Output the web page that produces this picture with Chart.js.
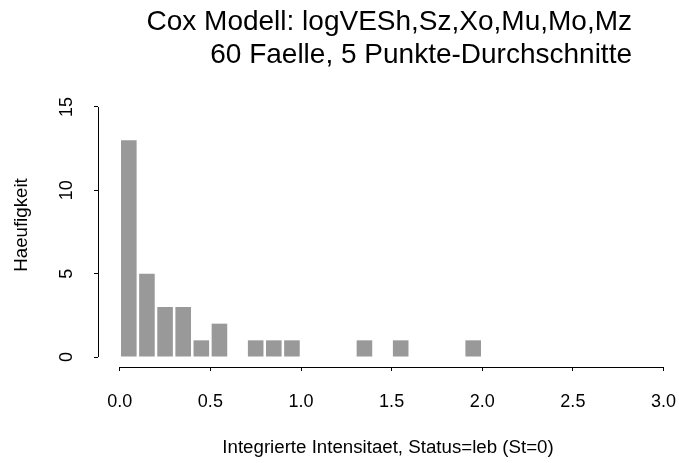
<!DOCTYPE html>
<html>
<head>
<meta charset="utf-8">
<script src="https://cdn.jsdelivr.net/npm/chart.js@4/dist/chart.umd.min.js"></script>
<style>
  body { margin: 0; background: #fff; }
</style>
</head>
<body>
<canvas id="histChart" width="679" height="463"></canvas>
<script>
// bin mids (bin width 0.1) and counts
const binMids = [0.05, 0.15, 0.25, 0.35, 0.45, 0.55, 0.65, 0.75, 0.85, 0.95,
                 1.05, 1.15, 1.25, 1.35, 1.45, 1.55, 1.65, 1.75, 1.85, 1.95];
const counts = [13, 5, 3, 3, 1, 2, 0, 1, 1, 1,
                0, 0, 0, 1, 0, 1, 0, 0, 0, 1];
const xTicks = [0, 0.5, 1, 1.5, 2, 2.5, 3];
const yTicks = [0, 5, 10, 15];

const titleLines = ['Cox Modell: logVESh,Sz,Xo,Mu,Mo,Mz', '60 Faelle, 5 Punkte-Durchschnitte'];
const xTitle = 'Integrierte Intensitaet, Status=leb (St=0)';
const yTitle = 'Haeufigkeit';

const fontFam = '"Liberation Sans", Arial, sans-serif';

// R-style axes: lines only across the tick range, rotated y labels, titles
const rStyle = {
    id: 'rStyle',
    afterDraw(chart) {
        const ctx = chart.ctx;
        const xs = chart.scales.x;
        const ys = chart.scales.y;
        const area = chart.chartArea;
        ctx.save();
        ctx.strokeStyle = '#000';
        ctx.lineWidth = 1;
        ctx.beginPath();
        const yb = Math.round(area.bottom) + 0.5;
        ctx.moveTo(xs.getPixelForValue(xTicks[0]), yb);
        ctx.lineTo(xs.getPixelForValue(xTicks[xTicks.length - 1]), yb);
        const xl = Math.round(area.left) + 0.5;
        ctx.moveTo(xl, ys.getPixelForValue(yTicks[0]));
        ctx.lineTo(xl, ys.getPixelForValue(yTicks[yTicks.length - 1]));
        ctx.stroke();

        ctx.fillStyle = '#000';
        ctx.font = '18px ' + fontFam;
        ctx.textAlign = 'center';
        ctx.textBaseline = 'alphabetic';
        ys.ticks.forEach(t => {
            ctx.save();
            ctx.translate(72, ys.getPixelForValue(t.value));
            ctx.rotate(-Math.PI / 2);
            ctx.fillText(String(t.value), 0, 0);
            ctx.restore();
        });

        ctx.font = '18.7px ' + fontFam;
        ctx.save();
        ctx.translate(26.5, 225);
        ctx.rotate(-Math.PI / 2);
        ctx.fillText(yTitle, 0, 0);
        ctx.restore();

        ctx.font = '28px ' + fontFam;
        ctx.textAlign = 'right';
        ctx.fillText(titleLines[0], 632, 30);
        ctx.fillText(titleLines[1], 632, 63);
        ctx.restore();
    }
};

new Chart(document.getElementById('histChart'), {
    type: 'bar',
    data: {
        datasets: [{
            data: binMids.map((m, i) => ({ x: m, y: counts[i] })),
            backgroundColor: '#999999',
            borderWidth: 0,
            barPercentage: 0.86,
            categoryPercentage: 1
        }]
    },
    options: {
        responsive: false,
        animation: false,
        layout: { padding: { top: 97, left: 0, right: 1, bottom: 0 } },
        plugins: { legend: { display: false }, tooltip: { enabled: false } },
        scales: {
            x: {
                type: 'linear',
                offset: false,
                min: -0.12,
                max: 3.08,
                afterBuildTicks: s => { s.ticks = xTicks.map(v => ({ value: v })); },
                afterFit: s => { s.height = 96; s.paddingLeft = 0; s.paddingRight = 0; },
                grid: { offset: false, drawOnChartArea: false, drawTicks: true, tickLength: 4, color: '#000' },
                border: { display: false },
                ticks: {
                    color: '#000',
                    font: { family: fontFam, size: 18 },
                    padding: 20,
                    maxRotation: 0,
                    autoSkip: false,
                    callback: v => Number(v).toFixed(1)
                },
                title: {
                    display: true,
                    text: xTitle,
                    color: '#000',
                    font: { family: fontFam, size: 18.7 },
                    padding: { top: 0, bottom: 4 }
                }
            },
            y: {
                min: -0.6,
                max: 15.6,
                afterBuildTicks: s => { s.ticks = yTicks.map(v => ({ value: v })); },
                afterFit: s => { s.width = 98; s.paddingTop = 0; s.paddingBottom = 0; },
                grid: { drawOnChartArea: false, drawTicks: true, tickLength: 4, color: '#000' },
                border: { display: false },
                ticks: { display: false }
            }
        }
    },
    plugins: [rStyle]
});
</script>
</body>
</html>
